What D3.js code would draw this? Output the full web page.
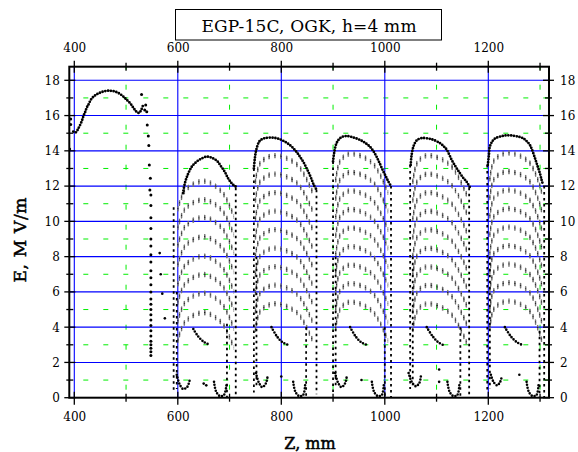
<!DOCTYPE html>
<html><head><meta charset="utf-8">
<script src="https://cdn.jsdelivr.net/npm/d3@7"></script>
<style>body{margin:0;background:#fff}svg{display:block}text{font-family:"DejaVu Serif",serif;fill:#000}</style>
</head><body><svg id="c" width="578" height="452"></svg>
<script>
// ---- data ----
const xTicks = [400, 600, 800, 1000, 1200];
const xMinor = [500, 700, 900, 1100, 1300];
const yTicks = [0, 2, 4, 6, 8, 10, 12, 14, 16, 18];
const yMinor = [1, 3, 5, 7, 9, 11, 13, 15, 17];
const title = "EGP-15C, OGK, h=4 mm";
const xLabel = "Z, mm";
const yLabel = "E, M V/m";

// entrance region curve
const entrance = [[398,15.09],[403,15.05],[408,15.28],[414,15.65],[418,16.0],[421,16.2],[424,16.45],[427,16.6],[432,16.9],[437,17.07],[443,17.2],[450,17.3],[458,17.38],[466,17.41],[472,17.4],[479,17.36],[487,17.25],[495,17.07],[501,16.9],[508,16.7],[514,16.45],[520,16.22],[525,16.15],[529,16.3],[533,16.6]];
const entranceDots = [[391,14.1],[393,15.5],[393,15.8],[530,17.2],[536,16.32],[538,16.6],[540,16.22],[541,15.47],[543,14.84],[544,14.3],[545,13.2],[547,12.44],[546,11.78]];
const dropZ = 548;
const dropE = [11.5,10.9,10.2,9.6,9.0,8.6,8.1,7.7,7.2,6.8,6.4,6.0,5.6,5.3,5.0,4.7,4.4,4.1,3.8,3.5,3.2,3.0,2.8,2.6,2.4];

// top envelopes of the five cells
const env1 = [[610,11.6],[614,12.2],[620,12.7],[627,13.1],[635,13.35],[645,13.55],[656,13.67],[666,13.6],[676,13.42],[684,13.1],[691,12.8],[697,12.45],[703,12.2],[709,12.02],[714,11.95]];
const env2 = [[747,13.0],[749,13.6],[752,14.1],[758,14.55],[766,14.7],[781,14.75],[795,14.68],[808,14.5],[820,14.24],[829,13.95],[836,13.67],[843,13.35],[849,13.0],[854,12.7],[859,12.35],[863,12.05],[867,11.85]];
const env3 = [[900,13.4],[902,13.86],[907,14.45],[915,14.75],[926,14.84],[940,14.75],[952,14.62],[962,14.45],[971,14.24],[978,13.98],[984,13.67],[990,13.3],[996,12.9],[1002,12.55],[1007,12.25],[1012,12.0]];
const env4 = [[1050,13.2],[1052,13.8],[1056,14.3],[1062,14.6],[1071,14.72],[1090,14.66],[1107,14.43],[1114,14.25],[1120,14.05],[1129,13.5],[1137,13.1],[1145,12.74],[1152,12.45],[1158,12.25],[1164,11.95]];
const env5 = [[1199,13.2],[1201,13.7],[1203,14.24],[1208,14.55],[1213,14.7],[1224,14.82],[1236,14.88],[1250,14.85],[1261,14.78],[1268,14.7],[1274,14.55],[1280,14.35],[1284,14.1],[1290,13.6],[1295,13.15],[1300,12.7],[1303,12.35],[1306,12.05]];

// inner arcs of each cell
const arcs1 = [
 [[600,10.65],[615,11.75],[650,12.25],[685,11.65],[708,10.25]],
 [[600,9.6],[615,10.7],[650,11.2],[685,10.6],[708,9.2]],
 [[600,8.6],[615,9.7],[650,10.2],[685,9.6],[708,8.2]],
 [[600,7.5],[615,8.6],[650,9.1],[685,8.5],[708,7.1]],
 [[600,6.4],[615,7.5],[650,8.0],[685,7.4],[708,6.0]],
 [[600,5.36],[615,6.46],[650,6.96],[685,6.36],[708,4.96]],
 [[600,4.3],[615,5.4],[650,5.9],[685,5.3],[708,3.9]],
 [[600,3.2],[615,4.3],[650,4.8],[685,4.2],[708,2.8]]];
const arcs2 = [
 [[750,12.2],[760,13.3],[786,13.7],[830,13.2],[862,11.5]],
 [[750,11.15],[760,12.25],[786,12.65],[830,12.15],[862,10.45]],
 [[750,10.1],[760,11.2],[786,11.6],[830,11.1],[862,9.4]],
 [[750,9.05],[760,10.15],[786,10.55],[830,10.05],[862,8.35]],
 [[750,8.0],[760,9.1],[786,9.5],[830,9.0],[862,7.3]],
 [[750,6.95],[760,8.05],[786,8.45],[830,7.95],[862,6.25]],
 [[750,5.9],[760,7.0],[786,7.4],[830,6.9],[862,5.2]],
 [[750,4.85],[760,5.95],[786,6.35],[830,5.85],[862,4.15]],
 [[750,3.8],[760,4.9],[786,5.3],[830,4.8],[862,3.1]]];
const arcs3 = [
 [[905,12.3],[914,13.4],[932,13.8],[975,13.3],[1006,11.6]],
 [[905,11.25],[914,12.35],[932,12.75],[975,12.25],[1006,10.55]],
 [[905,10.2],[914,11.3],[932,11.7],[975,11.2],[1006,9.5]],
 [[905,9.15],[914,10.25],[932,10.65],[975,10.15],[1006,8.45]],
 [[905,8.1],[914,9.2],[932,9.6],[975,9.1],[1006,7.4]],
 [[905,7.05],[914,8.15],[932,8.55],[975,8.05],[1006,6.35]],
 [[905,6.0],[914,7.1],[932,7.5],[975,7.0],[1006,5.3]],
 [[905,4.95],[914,6.05],[932,6.45],[975,5.95],[1006,4.25]],
 [[905,3.9],[914,5.0],[932,5.4],[975,4.9],[1006,3.2]]];
const arcs4 = [
 [[1054,12.2],[1063,13.3],[1081,13.7],[1125,13.2],[1158,11.5]],
 [[1054,11.15],[1063,12.25],[1081,12.65],[1125,12.15],[1158,10.45]],
 [[1054,10.1],[1063,11.2],[1081,11.6],[1125,11.1],[1158,9.4]],
 [[1054,9.05],[1063,10.15],[1081,10.55],[1125,10.05],[1158,8.35]],
 [[1054,8.0],[1063,9.1],[1081,9.5],[1125,9.0],[1158,7.3]],
 [[1054,6.95],[1063,8.05],[1081,8.45],[1125,7.95],[1158,6.25]],
 [[1054,5.9],[1063,7.0],[1081,7.4],[1125,6.9],[1158,5.2]],
 [[1054,4.85],[1063,5.95],[1081,6.35],[1125,5.85],[1158,4.15]],
 [[1054,3.8],[1063,4.9],[1081,5.3],[1125,4.8],[1158,3.1]]];
const arcs5 = [
 [[1203,12.35],[1212,13.45],[1238,13.85],[1278,13.35],[1303,11.65]],
 [[1203,11.3],[1212,12.4],[1238,12.8],[1278,12.3],[1303,10.6]],
 [[1203,10.25],[1212,11.35],[1238,11.75],[1278,11.25],[1303,9.55]],
 [[1203,9.2],[1212,10.3],[1238,10.7],[1278,10.2],[1303,8.5]],
 [[1203,8.15],[1212,9.25],[1238,9.65],[1278,9.15],[1303,7.45]],
 [[1203,7.1],[1212,8.2],[1238,8.6],[1278,8.1],[1303,6.4]],
 [[1203,6.05],[1212,7.15],[1238,7.55],[1278,7.05],[1303,5.35]],
 [[1203,5.0],[1212,6.1],[1238,6.5],[1278,6.0],[1303,4.3]],
 [[1203,3.95],[1212,5.05],[1238,5.45],[1278,4.95],[1303,3.25]]];

// low-field hooks and U-shaped traces
const hooks = [
 [[630,3.9],[640,3.45],[651,3.15],[662,3.0]],
 [[781,4.0],[791,3.5],[802,3.15],[813,3.0]],
 [[933,4.0],[943,3.5],[954,3.15],[965,3.0]],
 [[1081,4.0],[1092,3.5],[1103,3.15],[1112,3.0]],
 [[1232,4.0],[1243,3.5],[1255,3.15],[1265,3.0]]];
const uLeft = [
 [[598,1.3],[603,0.8],[610,0.5],[618,0.6],[623,1.0]],
 [[751,1.4],[756,0.9],[763,0.6],[770,0.8],[774,1.3]],
 [[904,1.4],[909,0.9],[916,0.6],[923,0.8],[927,1.3]],
 [[1046,1.4],[1052,0.9],[1060,0.65],[1067,0.85],[1070,1.3]],
 [[1205,1.3],[1210,0.9],[1217,0.7],[1223,0.9],[1226,1.2]]];
const uRight = [
 [[670,0.9],[674,0.35],[681,0.1],[689,0.15],[694,0.7]],
 [[823,0.9],[827,0.35],[834,0.1],[842,0.15],[846,0.7]],
 [[975,0.9],[979,0.35],[986,0.1],[994,0.15],[998,0.7]],
 [[1121,0.9],[1125,0.35],[1132,0.1],[1140,0.15],[1144,0.7]],
 [[1274,0.9],[1278,0.35],[1285,0.1],[1293,0.15],[1297,0.7]]];

// vertical dotted columns at cell edges
const colZ      = [592, 598, 712, 747, 752, 868, 900, 905, 1012, 1049, 1054, 1163, 1198, 1203, 1308, 695, 848, 1000, 1146, 1299];
const colTop    = [10.8, 6.0, 11.9, 13.0, 8.0, 11.8, 13.4, 8.0, 12.0, 13.2, 8.0, 11.9, 13.2, 8.0, 12.0, 4.2, 4.0, 4.0, 4.0, 3.8];
const colBottom = [0.3, 0.5, 0.0, 0.3, 0.6, 0.2, 0.3, 0.6, 0.0, 0.5, 0.7, 0.0, 0.3, 0.5, 0.0, 0.0, 0.0, 0.0, 0.0, 0.0];
const scatter = [[650,0.8],[655,0.7],[800,1.2],[955,1.0],[1105,0.9],[1105,1.6],[1260,1.3],[565,8.2],[567,7.0],[570,5.9],[575,4.5]];

// ---- drawing ----
const svg = d3.select("#c");
const L = 69.3, R = 549, T = 66.7, B = 397.7;
const x = d3.scaleLinear().domain([400, 1300]).range([74.3, 540.05]);
const y = d3.scaleLinear().domain([0, 18]).range([397.7, 80.3]);

svg.append("defs").append("clipPath").attr("id","clip")
  .append("rect").attr("x",L).attr("y",T).attr("width",R-L).attr("height",B-T);

// green dashed grid
const grid = svg.append("g");
grid.selectAll(".gh").data(yMinor).join("line")
  .attr("x1",L).attr("x2",R).attr("y1",d=>y(d)).attr("y2",d=>y(d))
  .attr("stroke","#00ee00").attr("stroke-width",1).attr("stroke-dasharray","5,15").attr("stroke-dashoffset",-14);
grid.selectAll(".gv").data(xMinor).join("line")
  .attr("x1",d=>x(d)).attr("x2",d=>x(d)).attr("y1",B).attr("y2",T)
  .attr("stroke","#00ee00").attr("stroke-width",1).attr("stroke-dasharray","5,15").attr("stroke-dashoffset",-8);
// blue grid
grid.selectAll(".bh").data(yTicks.filter(d=>d>0)).join("line")
  .attr("x1",L).attr("x2",R).attr("y1",d=>y(d)).attr("y2",d=>y(d))
  .attr("stroke","#0000ff").attr("stroke-width",1.1);
grid.selectAll(".bv").data(xTicks).join("line")
  .attr("x1",d=>x(d)).attr("x2",d=>x(d)).attr("y1",B).attr("y2",T)
  .attr("stroke","#0000ff").attr("stroke-width",1.1);

const plot = svg.append("g").attr("clip-path","url(#clip)");
const line = d3.line().x(d=>x(d[0])).y(d=>y(d[1])).curve(d3.curveCatmullRom);

// inner arcs: vertical dashes along the arcs
const allArcs = [].concat(arcs1, arcs2, arcs3, arcs4, arcs5);
[-2.5,-1.5,-0.5,0.5,1.5].forEach((off,i)=>{
  plot.append("g").attr("transform",`translate(0,${off})`)
    .selectAll("path").data(allArcs).join("path")
    .attr("d", line).attr("fill","none")
    .attr("stroke", i===2 ? "#222" : "#707070")
    .attr("stroke-width",1.3).attr("stroke-dasharray","1.5,4.5");
});

// low-field hooks and Us
plot.selectAll(".hook").data([].concat(hooks, uLeft, uRight)).join("path")
  .attr("d", line).attr("fill","none").attr("stroke","#000")
  .attr("stroke-width",2.6).attr("stroke-linecap","round").attr("stroke-dasharray","0,3");

// columns
plot.selectAll(".col").data(colZ).join("line")
  .attr("x1",d=>x(d)).attr("x2",d=>x(d))
  .attr("y1",(d,i)=>y(colTop[i])).attr("y2",(d,i)=>y(colBottom[i]))
  .attr("stroke","#000").attr("stroke-width",1.8).attr("stroke-dasharray","2.5,3.5");

// envelopes and entrance curve (dense dots)
plot.selectAll(".env").data([entrance, env1, env2, env3, env4, env5]).join("path")
  .attr("d", line).attr("fill","none").attr("stroke","#000")
  .attr("stroke-width",2.8).attr("stroke-linecap","round").attr("stroke-dasharray","0,2.8");

plot.selectAll(".ed").data(entranceDots).join("circle")
  .attr("cx",d=>x(d[0])).attr("cy",d=>y(d[1])).attr("r",1.5).attr("fill","#000");
plot.selectAll(".dd").data(dropE).join("circle")
  .attr("cx",x(dropZ)).attr("cy",d=>y(d)).attr("r",1.5).attr("fill","#000");
plot.selectAll(".sc").data(scatter).join("circle")
  .attr("cx",d=>x(d[0])).attr("cy",d=>y(d[1])).attr("r",1.3).attr("fill","#000");

// frame
svg.append("rect").attr("x",L).attr("y",T).attr("width",R-L).attr("height",B-T)
  .attr("fill","none").attr("stroke","#000").attr("stroke-width",2);

// tick marks crossing the frame
const tk = svg.append("g").attr("stroke","#000").attr("stroke-width",1.3);
yTicks.forEach(v=>{
  tk.append("line").attr("x1",L-5).attr("x2",L+6).attr("y1",y(v)).attr("y2",y(v));
  tk.append("line").attr("x1",R-6).attr("x2",R+5).attr("y1",y(v)).attr("y2",y(v));
});
yMinor.forEach(v=>{
  tk.append("line").attr("x1",L-3).attr("x2",L+4).attr("y1",y(v)).attr("y2",y(v));
  tk.append("line").attr("x1",R-4).attr("x2",R+3).attr("y1",y(v)).attr("y2",y(v));
});
xTicks.forEach(v=>{
  tk.append("line").attr("x1",x(v)).attr("x2",x(v)).attr("y1",T-6).attr("y2",T+6);
  tk.append("line").attr("x1",x(v)).attr("x2",x(v)).attr("y1",B-6).attr("y2",B+7);
});
xMinor.forEach(v=>{
  tk.append("line").attr("x1",x(v)).attr("x2",x(v)).attr("y1",T-4).attr("y2",T+4);
  tk.append("line").attr("x1",x(v)).attr("x2",x(v)).attr("y1",B-4).attr("y2",B+4);
});

// axis labels via d3 axes
function style(g){ g.select(".domain").remove(); g.selectAll("line").remove();
  g.selectAll("text").style("font-family","DejaVu Serif").style("font-size","12px").attr("fill","#000"); }
svg.append("g").attr("transform",`translate(${L},0)`).call(d3.axisLeft(y).tickValues(yTicks).tickSize(0).tickPadding(9.5).tickFormat(d3.format("d"))).call(style);
svg.append("g").attr("transform",`translate(${R},0)`).call(d3.axisRight(y).tickValues(yTicks).tickSize(0).tickPadding(11).tickFormat(d3.format("d"))).call(style);
svg.append("g").attr("transform",`translate(0,${T})`).call(d3.axisTop(x).tickValues(xTicks).tickSize(0).tickPadding(14.7).tickFormat(d3.format("d"))).call(style);
svg.append("g").attr("transform",`translate(0,${B})`).call(d3.axisBottom(x).tickValues(xTicks).tickSize(0).tickPadding(14.5).tickFormat(d3.format("d"))).call(style);

// title box
svg.append("rect").attr("x",175.5).attr("y",9.5).attr("width",266).attr("height",30.5)
  .attr("fill","#fff").attr("stroke","#000").attr("stroke-width",1);
svg.append("text").attr("x",309).attr("y",31.5).attr("text-anchor","middle")
  .style("font-size","17px").attr("textLength",215).attr("lengthAdjust","spacing").text(title);

// axis titles (slightly heavier, as in the reference)
svg.append("text").attr("x",310).attr("y",449).attr("text-anchor","middle")
  .style("font-size","16px").attr("stroke","#000").attr("stroke-width",0.5).text(xLabel);
svg.append("text").attr("transform","translate(25.5,240) rotate(-90)").attr("text-anchor","middle")
  .style("font-size","17px").attr("stroke","#000").attr("stroke-width",0.5)
  .attr("textLength",85).attr("lengthAdjust","spacing").text(yLabel);
</script></body></html>
